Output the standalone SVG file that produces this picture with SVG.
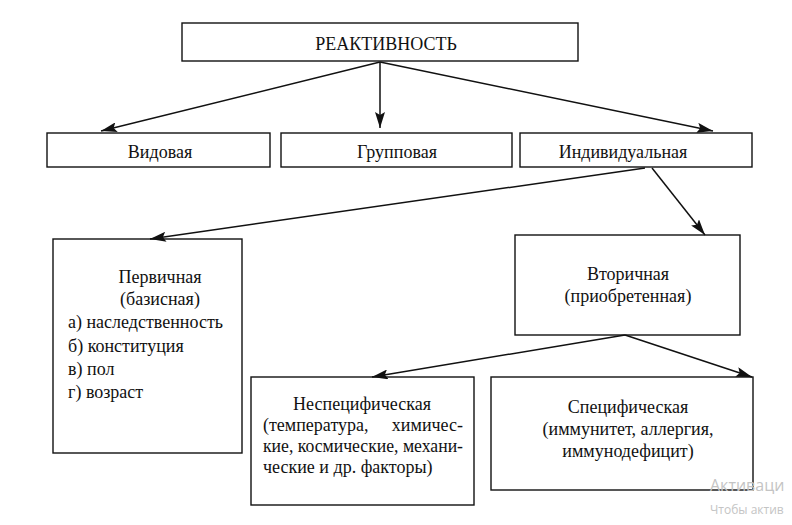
<svg xmlns="http://www.w3.org/2000/svg" width="792" height="525" viewBox="0 0 792 525">
<style>
.box{fill:#fff;stroke:#111;stroke-width:1.4}
.t{font-family:'Liberation Serif','DejaVu Serif','Times New Roman',serif;font-size:18px;fill:#111}
.c{text-anchor:middle}
.con{stroke:#111;stroke-width:1.5;fill:none;marker-end:url(#ah)}
.wm{font-family:'Open Sans','Noto Sans',sans-serif;fill:#c4c4c4}
</style>
<defs>
<marker id="ah" viewBox="0 0 16 10" refX="16" refY="5" markerWidth="16" markerHeight="10" markerUnits="userSpaceOnUse" orient="auto">
<path d="M0,0 L16,5 L0,10 L3,5 Z" fill="#111"/>
</marker>
</defs>
<rect width="792" height="525" fill="#fff"/>
<g id="reaktivnost">
<rect class="box" x="182" y="23" width="396" height="38"/>
<text class="t c" x="386" y="50" font-family="Liberation Serif, serif">РЕАКТИВНОСТЬ</text>
</g>
<g id="vidovaya">
<rect class="box" x="47" y="133" width="223" height="34"/>
<text class="t c" x="160" y="158">Видовая</text>
</g>
<g id="gruppovaya">
<rect class="box" x="281" y="133" width="231" height="34"/>
<text class="t c" x="397" y="158">Групповая</text>
</g>
<g id="individualnaya">
<rect class="box" x="520" y="133" width="232" height="34"/>
<text class="t c" x="623" y="158">Индивидуальная</text>
</g>
<g id="pervichnaya">
<rect class="box" x="53" y="239" width="189" height="214"/>
<text class="t c" x="160" y="283">Первичная</text>
<text class="t c" x="160" y="305">(базисная)</text>
<text class="t" x="68" y="328">а) наследственность</text>
<text class="t" x="68" y="352">б) конституция</text>
<text class="t" x="68" y="375">в) пол</text>
<text class="t" x="68" y="398">г) возраст</text>
</g>
<g id="vtorichnaya">
<rect class="box" x="515" y="235" width="225" height="100"/>
<text class="t c" x="628" y="280">Вторичная</text>
<text class="t c" x="628" y="302">(приобретенная)</text>
</g>
<g id="nespecificheskaya">
<rect class="box" x="251" y="377" width="223" height="128"/>
<text class="t c" x="362" y="410">Неспецифическая</text>
<text class="t" x="263" y="431">(температура,</text>
<text class="t" x="463" y="431" text-anchor="end">химичес-</text>
<text class="t" x="263" y="452" textLength="200" lengthAdjust="spacingAndGlyphs">кие, космические, механи-</text>
<text class="t" x="263" y="473">ческие и др. факторы)</text>
</g>
<g id="specificheskaya">
<rect class="box" x="491" y="377" width="262" height="113"/>
<text class="t c" x="628" y="413">Специфическая</text>
<text class="t c" x="628" y="435">(иммунитет, аллергия,</text>
<text class="t c" x="628" y="457">иммунодефицит)</text>
</g>
<g id="connectors">
<line class="con" x1="380" y1="62" x2="101" y2="131"/>
<line class="con" x1="380" y1="62" x2="380" y2="128"/>
<line class="con" x1="380" y1="62" x2="713" y2="131"/>
<line class="con" x1="645" y1="168" x2="150" y2="239"/>
<line class="con" x1="652" y1="168" x2="705" y2="235"/>
<line class="con" x1="625" y1="335" x2="372" y2="377"/>
<line class="con" x1="625" y1="335" x2="752" y2="377"/>
</g>
<text class="wm" x="710" y="491" font-size="16">Активаци</text>
<text class="wm" x="710" y="514" font-size="12">Чтобы актив</text>
</svg>
